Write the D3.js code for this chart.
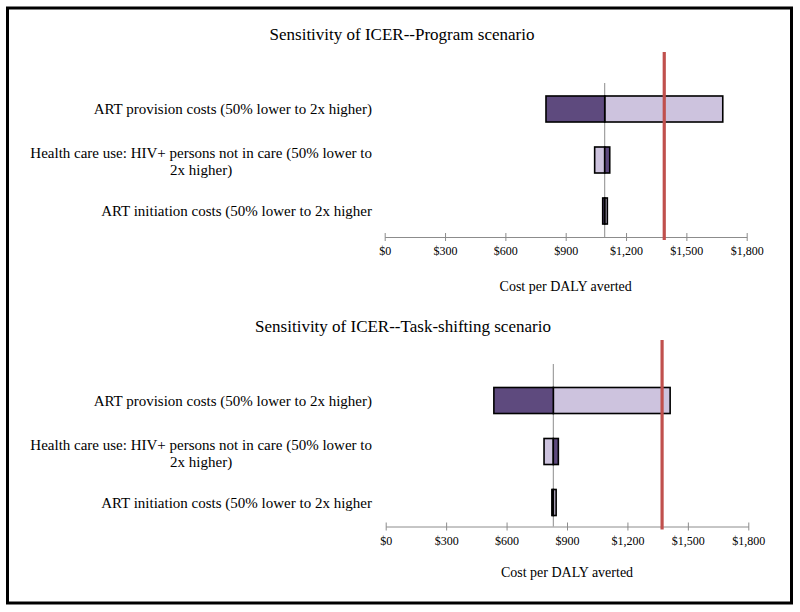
<!DOCTYPE html>
<html>
<head>
<meta charset="utf-8">
<script src="https://cdn.jsdelivr.net/npm/d3@7"></script>
<style>
  html, body { margin: 0; padding: 0; background: #fff; }
  svg { display: block; }
</style>
</head>
<body>
<svg id="chart" width="800" height="612"></svg>
<script>
// ---- data ----
const categories = ["ART provision", "Health care use", "ART initiation"];
const categoryLabels = [
  ["ART provision costs (50% lower to 2x higher)"],
  ["Health care use: HIV+ persons not in care (50% lower to", "2x higher)"],
  ["ART initiation costs (50% lower to 2x higher"]
];
const tickValues = [0, 300, 600, 900, 1200, 1500, 1800];
const axisTitle = "Cost per DALY averted";

const programTitle = "Sensitivity of ICER--Program scenario";
const programBase = 1094;
const programLow = [802, 1119, 1084];    // 50% lower
const programHigh = [1681, 1044, 1107];  // 2x higher
const programThreshold = 1390;

const taskTitle = "Sensitivity of ICER--Task-shifting scenario";
const taskBase = 832;
const taskLow = [537, 857, 825];
const taskHigh = [1412, 786, 846];
const taskThreshold = 1372;

// ---- drawing ----
const FONT = "'Liberation Serif', 'Times New Roman', serif";
const darkColor = "#5e4a7e";
const lightColor = "#cdc3de";
const redColor = "#c0504d";

const svg = d3.select("#chart");

svg.append("rect")
  .attr("x", 7.5).attr("y", 8).attr("width", 784).attr("height", 595)
  .attr("fill", "none").attr("stroke", "#000").attr("stroke-width", 3);

function panel(opts) {
  const g = svg.append("g");
  const x = d3.scaleLinear().domain([0, 1800]).range(opts.xRange);
  const y = d3.scaleBand().domain(categories)
    .range(opts.yRange).paddingInner(0.49).paddingOuter(0.245);

  g.append("text")
    .attr("x", opts.titleX).attr("y", opts.titleY)
    .attr("text-anchor", "middle")
    .attr("font-family", FONT).attr("font-size", 17).attr("fill", "#000")
    .text(opts.title);

  // axis
  const axis = d3.axisBottom(x).tickValues(tickValues)
    .tickFormat(d3.format("$,")).tickSizeOuter(0);
  const ag = g.append("g").attr("transform", `translate(0,${opts.axisY})`).call(axis);
  ag.select(".domain").attr("stroke", "#8c8c8c").attr("stroke-width", 1);
  ag.selectAll(".tick line").attr("stroke", "#8c8c8c").attr("y1", -4).attr("y2", 4);
  ag.selectAll(".tick text")
    .attr("y", 18).attr("dy", 0)
    .attr("font-family", FONT).attr("font-size", 12).attr("fill", "#000");

  g.append("text")
    .attr("x", (opts.xRange[0] + opts.xRange[1]) / 2).attr("y", opts.axisTitleY)
    .attr("text-anchor", "middle")
    .attr("font-family", FONT).attr("font-size", 14).attr("fill", "#000")
    .text(axisTitle);

  // base line
  g.append("line")
    .attr("x1", x(opts.base)).attr("x2", x(opts.base))
    .attr("y1", opts.baseTop).attr("y2", opts.axisY)
    .attr("stroke", "#8c8c8c").attr("stroke-width", 1);

  // bars
  categories.forEach((c, i) => {
    const bw = y.bandwidth();
    const segs = [
      { v: opts.high[i], fill: lightColor },
      { v: opts.low[i], fill: darkColor }
    ];
    segs.forEach(s => {
      const x0 = Math.min(x(opts.base), x(s.v));
      const x1 = Math.max(x(opts.base), x(s.v));
      g.append("rect")
        .attr("x", x0).attr("y", y(c))
        .attr("width", x1 - x0).attr("height", bw)
        .attr("fill", s.fill).attr("stroke", "#000").attr("stroke-width", 1.6);
    });

    // labels
    const cy = y(c) + bw / 2;
    const lines = categoryLabels[i];
    if (lines.length === 1) {
      g.append("text")
        .attr("x", 372).attr("y", cy + 5)
        .attr("text-anchor", "end")
        .attr("font-family", FONT).attr("font-size", 15).attr("fill", "#000")
        .text(lines[0]);
    } else {
      const t1 = g.append("text")
        .attr("x", 372).attr("y", cy - 2)
        .attr("text-anchor", "end")
        .attr("font-family", FONT).attr("font-size", 15).attr("fill", "#000")
        .text(lines[0]);
      const w = t1.node().getComputedTextLength();
      g.append("text")
        .attr("x", 372 - w / 2).attr("y", cy + 15)
        .attr("text-anchor", "middle")
        .attr("font-family", FONT).attr("font-size", 15).attr("fill", "#000")
        .text(lines[1]);
    }
  });

  // threshold
  g.append("line")
    .attr("x1", x(opts.threshold)).attr("x2", x(opts.threshold))
    .attr("y1", opts.redTop).attr("y2", opts.axisY + 3)
    .attr("stroke", redColor).attr("stroke-width", 3.2);
}

panel({
  title: programTitle, titleX: 402, titleY: 40,
  xRange: [384.7, 746.7], yRange: [83.5, 236.5], axisY: 237,
  axisTitleY: 291, baseTop: 83, redTop: 52,
  base: programBase, low: programLow, high: programHigh, threshold: programThreshold
});

panel({
  title: taskTitle, titleX: 403, titleY: 332,
  xRange: [385.7, 748.3], yRange: [375, 528], axisY: 526.5,
  axisTitleY: 577, baseTop: 364, redTop: 340,
  base: taskBase, low: taskLow, high: taskHigh, threshold: taskThreshold
});
</script>
</body>
</html>
